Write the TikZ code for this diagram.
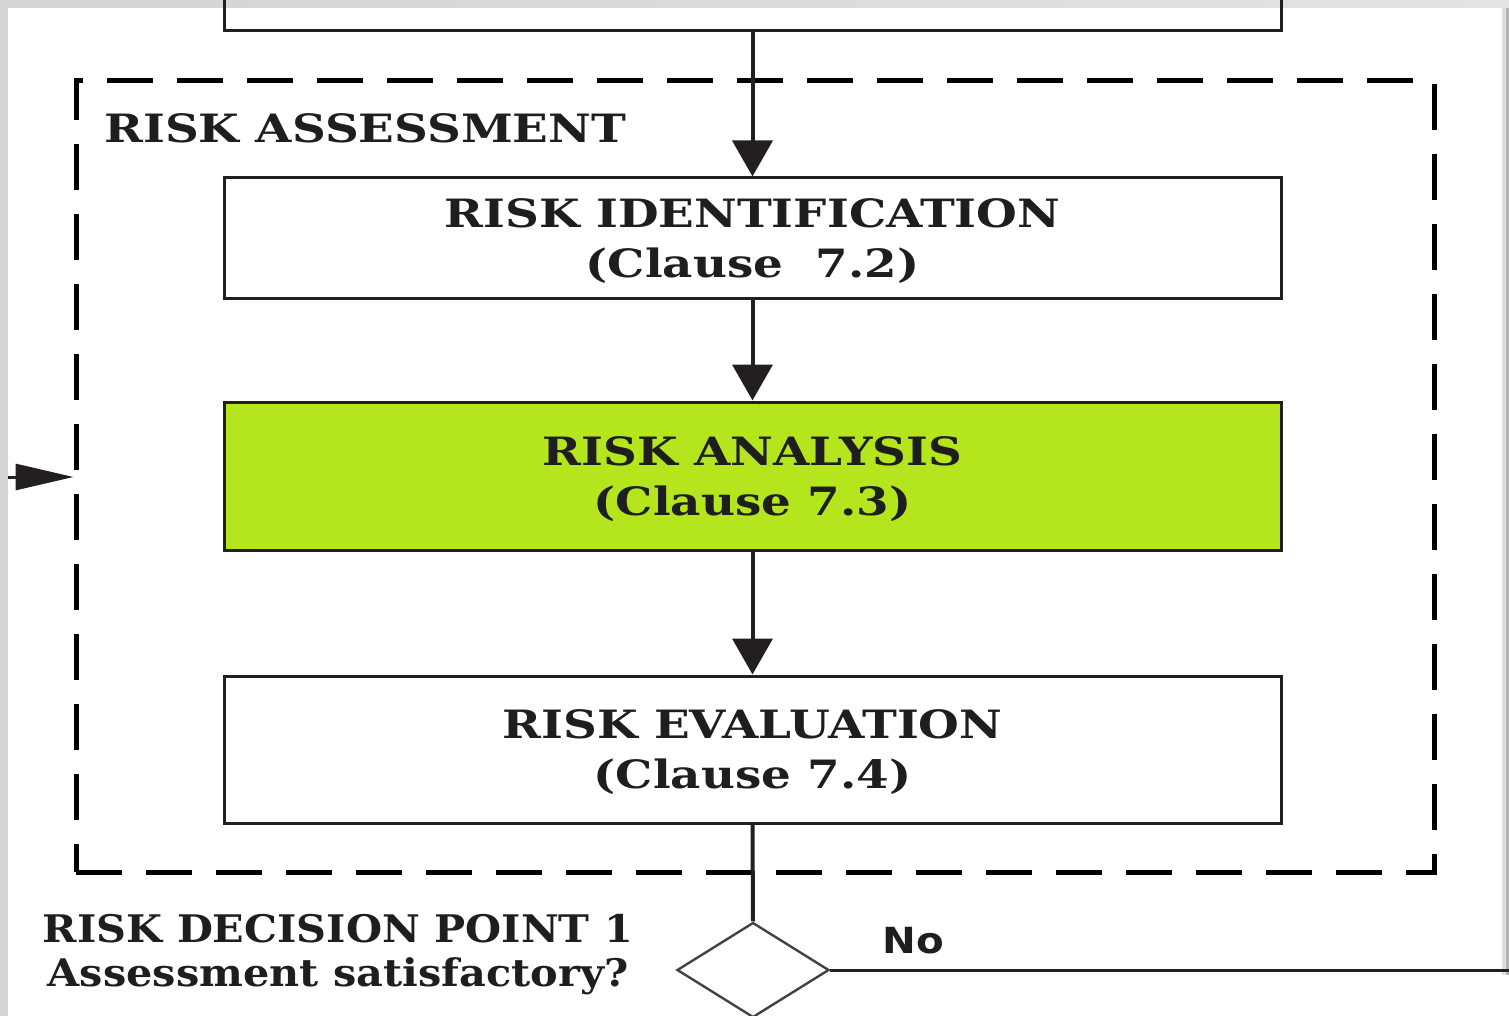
\documentclass[tikz,border=0pt]{standalone}
\usepackage{fontspec}
\setmainfont{DejaVu Serif}[FakeStretch=1.2]
\newfontfamily\decisionserif{DejaVu Serif}[FakeStretch=1.09]
\newfontfamily\labelsans{DejaVu Sans}[FakeStretch=1.12]
\usetikzlibrary{arrows.meta,shapes.geometric,fit}
\definecolor{ink}{HTML}{231F20}
\definecolor{txt}{HTML}{1E1E1E}
\definecolor{leaf}{RGB}{181,229,29}
\definecolor{edge}{HTML}{D4D4D4}

\begin{document}
\begin{tikzpicture}[x=0.5pt,y=-0.5pt,
  stage/.style={draw=ink, line width=1.5pt, inner sep=0pt},
  stagetext/.style={align=center, inner sep=0pt, yshift=-1.5pt,
    font=\bfseries\fontsize{19.5}{25}\selectfont, text=txt},
  flow/.style={draw=ink, line width=2pt},
  down/.style={flow, -{Triangle[length=18pt,width=20pt]}},
  side/.style={flow, line width=1.5pt, -{Triangle[length=29pt,width=13pt]}},
  group/.style={draw=black, line width=2.5pt, dash pattern=on 23pt off 12pt, inner sep=0pt},
  caption/.style={font=\bfseries\fontsize{19.5}{22}\selectfont, text=txt, inner sep=0pt}
]
\useasboundingbox (0,0) rectangle (1509,1016);

% window edges
\shade[left color=edge, middle color=gray!8, right color=gray!22] (0,0) rectangle (1509,8);
\fill[edge] (0,8) rectangle (8,1016);
\fill[gray!25] (1502,8) rectangle (1506,975);
\fill[gray!60] (1506,8) rectangle (1509,975);

% process boxes
\node[stage, fit={(224,-20) (1281,31)}] (ctx) {};
\node[stage, fit={(224,178) (1281,298)}] (ident) {};
\node[stage, fill=leaf, fit={(224,402) (1281,550)}] (analysis) {};
\node[stage, fit={(224,676) (1281,823)}] (evaluation) {};
\node[stagetext] (ident-text) at (ident.center) {RISK IDENTIFICATION\\(Clause~~7.2)};
\node[stagetext] (analysis-text) at (analysis.center) {RISK ANALYSIS\\(Clause 7.3)};
\node[stagetext] (evaluation-text) at (evaluation.center) {RISK EVALUATION\\(Clause 7.4)};

% assessment group
\node[group, fit={(76,81) (1434,872)}] (assess) {};
\node[caption, anchor=base west] (assesslabel) at (104,143) {RISK ASSESSMENT};

% decision point
\node[draw=ink!85, line width=1.2pt, diamond, minimum width=76pt, minimum height=47.5pt, inner sep=0pt] (decision) at (753,970) {};
\node[font=\decisionserif\bfseries\fontsize{19}{22}\selectfont, text=txt, inner sep=0pt, align=center] (decisionlabel) at (338,955) {RISK DECISION POINT 1\\Assessment satisfactory?};
\node[font=\labelsans\bfseries\fontsize{18}{18}\selectfont, text=txt, inner sep=0pt, anchor=base west] (nolabel) at (882,953) {No};

% connectors
\draw[down] (ctx.south) -- (ident.north);
\draw[down] (ident.south) -- (analysis.north);
\draw[down] (analysis.south) -- (evaluation.north);
\draw[flow] (evaluation.south) -- (decision.north);
\coordinate (noend) at (1530,970);
\draw[flow, line width=1.5pt] (decision.east) -- (noend);
\coordinate (feedback) at (8,477);
\draw[side] (feedback) -- (assess.west |- feedback);
\end{tikzpicture}
\end{document}
